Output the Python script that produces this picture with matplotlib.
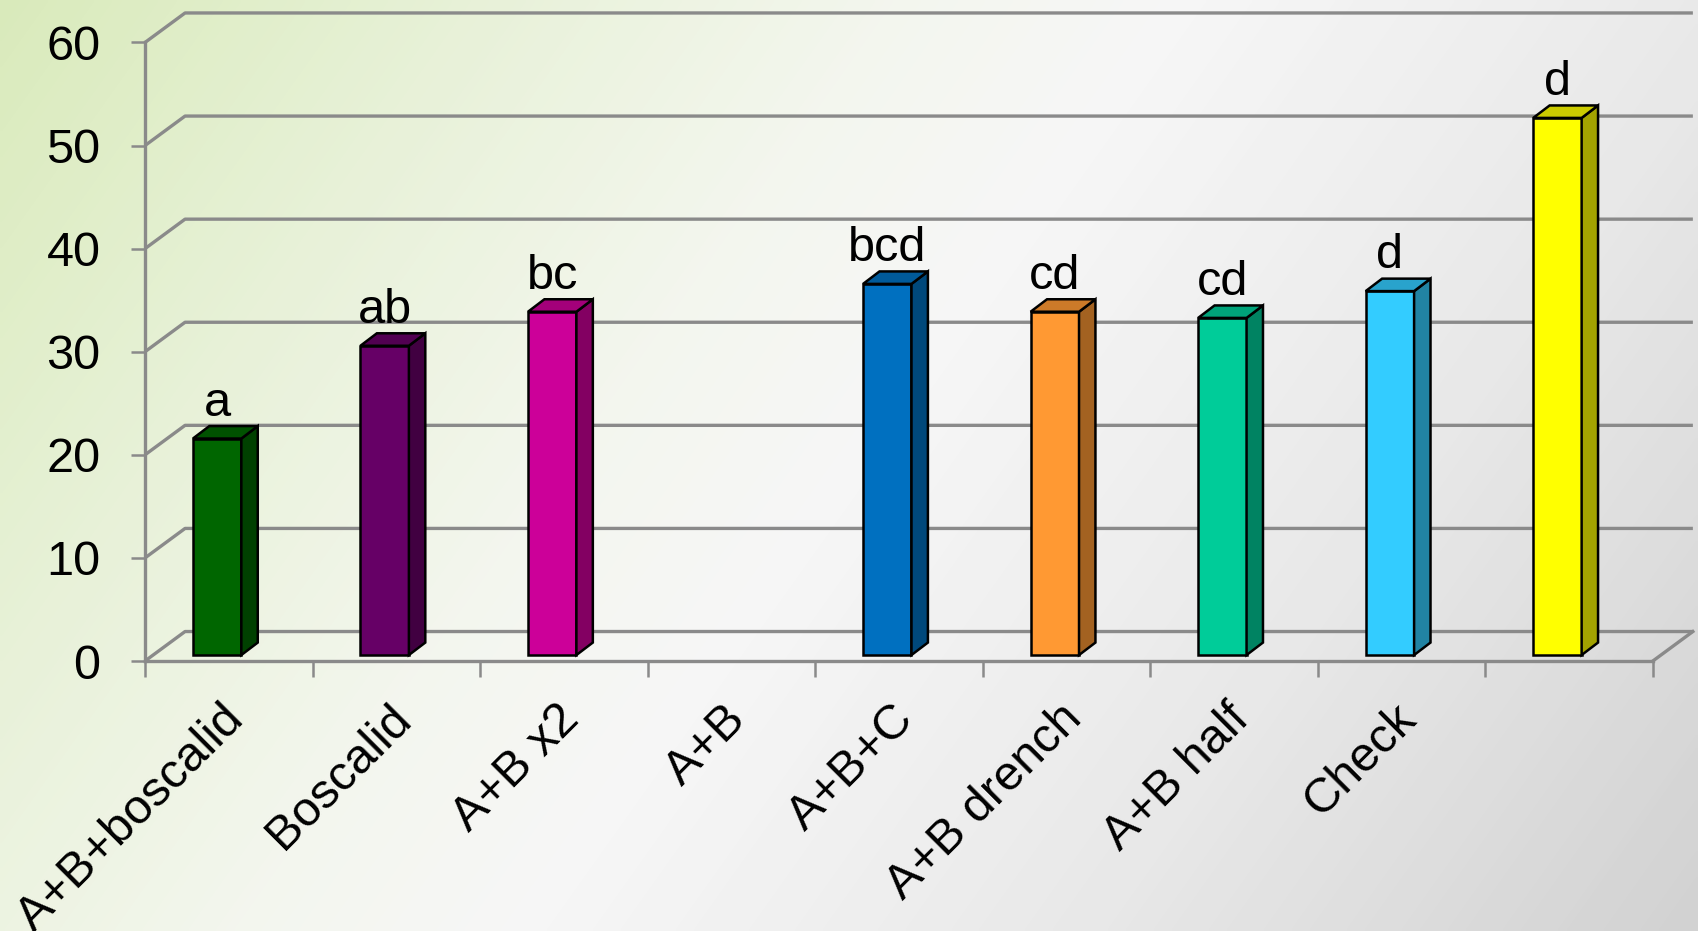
import numpy as np
import matplotlib
matplotlib.use('Agg')
import matplotlib.pyplot as plt
from matplotlib.patches import Polygon, Rectangle
from matplotlib.colors import to_rgb, LinearSegmentedColormap

plt.rcParams['font.family'] = ['Liberation Sans', 'DejaVu Sans']

# treatments and disease values (%), letters = mean separation
treatments = ['A+B+boscalid', 'Boscalid', 'A+B x2', 'A+B', 'A+B+C',
              'A+B drench', 'A+B half', 'Check', '']
values = [21.0, 30.0, 33.3, np.nan, 36.0, 33.3, 32.7, 35.3, 52.1]
letters = ['a', 'ab', 'bc', '', 'bcd', 'cd', 'cd', 'd', 'd']
colors = ['#006600', '#660066', '#cc0099', '#999999', '#0070c0',
          '#ff9933', '#00cc99', '#33ccff', '#ffff00']
yticks = [0, 10, 20, 30, 40, 50, 60]

# pseudo-3d geometry, in data units (x: category, y: value)
WALL_DX, WALL_DY = 0.239, 2.86
BAR_X0, BAR_W, BAR_Z = 0.286, 0.289, 0.58
SIDE_DX, SIDE_DY = 0.098, 1.21
GRID = '#8a8a8a'


def shade(c, f):
    r, g, b = to_rgb(c)
    return (r * f, g * f, b * f)


fig = plt.figure(figsize=(16.98, 9.31), dpi=100)

# background gradient: green on the left -> white -> grey bottom-right
bg = fig.add_axes([0, 0, 1, 1], zorder=-10)
gx, gy = np.meshgrid(np.linspace(0, 1, 400), np.linspace(0, 1, 220))
t = 0.72 * gx + 0.28 * gy
cmap = LinearSegmentedColormap.from_list(
    'bg', [(0, '#c6e098'), (0.2, '#dcebc4'), (0.38, '#eef2e6'),
           (0.5, '#f3f3f3'), (0.75, '#dcdcdc'), (1, '#bababa')])
bg.imshow(t, cmap=cmap, aspect='auto', extent=[0, 1, 0, 1], origin='upper',
          vmin=0, vmax=1, interpolation='bilinear')
plt.rcParams['hatch.linewidth'] = 1.5
bg.add_patch(Rectangle((0, 0), 1, 1, transform=bg.transAxes, facecolor='none',
                       edgecolor=(1, 1, 1, 0.35), hatch='/' * 12, lw=0))
bg.set_xlim(0, 1)
bg.set_ylim(0, 1)
bg.axis('off')

ax = fig.add_axes([0.0854, 0.29, 0.888, 0.6644])
ax.set_facecolor('none')
ax.set_xlim(0, len(treatments))
ax.set_ylim(0, 60)
n = len(treatments)

# side wall + back wall gridlines
for v in yticks:
    ax.plot([0, WALL_DX, n + WALL_DX], [v, v + WALL_DY, v + WALL_DY],
            color=GRID, lw=2.4, zorder=1, clip_on=False, solid_capstyle='butt')
# right edge of the floor
ax.plot([n, n + WALL_DX], [0, WALL_DY], color=GRID, lw=2.4, zorder=1, clip_on=False)

# bars: front face + side + top
for i, (v, c) in enumerate(zip(values, colors)):
    if np.isnan(v):
        continue
    x0 = i + BAR_X0
    x1 = x0 + BAR_W
    y0 = BAR_Z
    y1 = BAR_Z + v
    ax.bar(x0, v, width=BAR_W, bottom=y0, align='edge', color=c,
           edgecolor='black', lw=1.8, zorder=3)
    ax.add_patch(Polygon([(x1, y0), (x1 + SIDE_DX, y0 + SIDE_DY),
                          (x1 + SIDE_DX, y1 + SIDE_DY), (x1, y1)],
                         closed=True, facecolor=shade(c, 0.64),
                         edgecolor='black', lw=1.8, zorder=3))
    ax.add_patch(Polygon([(x0, y1), (x0 + SIDE_DX, y1 + SIDE_DY),
                          (x1 + SIDE_DX, y1 + SIDE_DY), (x1, y1)],
                         closed=True, facecolor=shade(c, 0.8),
                         edgecolor='black', lw=1.8, zorder=3))
    ax.annotate(letters[i], (x0 + BAR_W / 2, y1), xytext=(0, 16.5),
                textcoords='offset points', ha='center', va='baseline',
                fontsize=35, zorder=4)

for s in ['top', 'right']:
    ax.spines[s].set_visible(False)
for s in ['left', 'bottom']:
    ax.spines[s].set_color(GRID)
    ax.spines[s].set_linewidth(2.4)
    ax.spines[s].set_zorder(2)

ax.set_yticks(yticks)
ax.tick_params(axis='y', length=10, width=1.8, color=GRID, pad=22, labelsize=35)

ax.set_xticks(np.arange(n + 1))
ax.set_xticklabels([])
ax.tick_params(axis='x', which='major', length=11.5, width=1.8, color=GRID)
# rotated labels end just right of each category centre
ax.set_xticks(np.arange(n) + 0.6, minor=True)
ax.set_xticklabels(treatments, minor=True)
ax.tick_params(axis='x', which='minor', length=0, pad=43, labelsize=35)
for lab in ax.get_xticklabels(minor=True):
    lab.set_rotation(45)
    lab.set_ha('right')
    lab.set_va('baseline')
    lab.set_rotation_mode('anchor')

fig.savefig('out.png', dpi=100)
